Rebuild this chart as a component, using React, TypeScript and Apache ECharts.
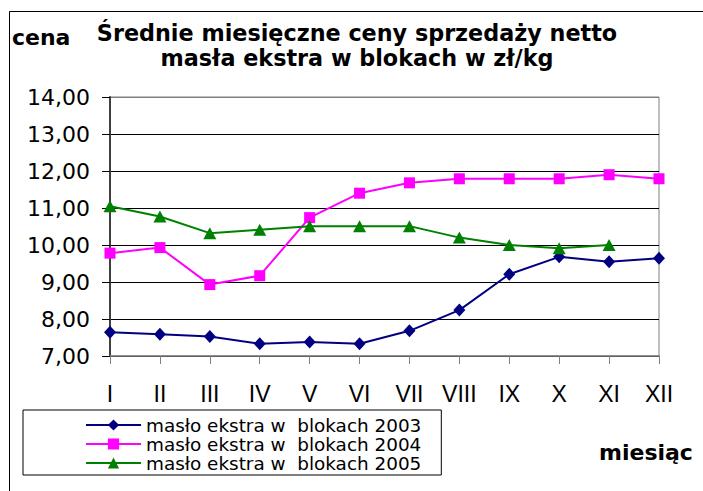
import React, { useEffect, useRef } from "react";
import * as echarts from "echarts";

const months = ["I", "II", "III", "IV", "V", "VI", "VII", "VIII", "IX", "X", "XI", "XII"];
const seriesNames = [
  "masło ekstra w  blokach 2003",
  "masło ekstra w  blokach 2004",
  "masło ekstra w  blokach 2005",
];
const v2003 = [7.64, 7.59, 7.53, 7.33, 7.38, 7.33, 7.68, 8.24, 9.21, 9.68, 9.55, 9.64];
const v2004 = [9.78, 9.93, 8.93, 9.17, 10.74, 11.4, 11.68, 11.79, 11.79, 11.79, 11.9, 11.79];
const v2005 = [11.05, 10.77, 10.32, 10.41, 10.51, 10.51, 10.51, 10.2, 10.0, 9.91, 10.0, null];
const titleText = "Średnie miesięczne ceny sprzedaży netto\nmasła ekstra w blokach w zł/kg";
const yName = "cena";
const xName = "miesiąc";
const yMin = 7;
const yMax = 14;
const yStep = 1;

export default function App() {
  const ref = useRef<HTMLDivElement>(null);
  useEffect(() => {
    document.body.style.margin = "0";
    if (!ref.current) return;
    const chart = echarts.init(ref.current, null, { renderer: "svg" });
    const gridColors: string[] = [];
    for (let v = yMin; v <= yMax; v += yStep) {
      gridColors.push(v === yMax ? "#808080" : "#000000");
    }
    chart.setOption({
      animation: false,
      backgroundColor: "#ffffff",
      title: {
        text: titleText,
        left: 357,
        top: 20,
        padding: 0,
        textAlign: "center",
        textStyle: {
          fontFamily: "DejaVu Sans",
          fontWeight: "bold",
          fontSize: 22.3,
          lineHeight: 25,
          color: "#000",
        },
      },
      graphic: [
        {
          type: "rect",
          silent: true,
          z: -10,
          shape: { x: 9.5, y: 11.5, width: 900, height: 700 },
          style: { fill: "none", stroke: "#000", lineWidth: 1 },
        },
        {
          type: "text",
          silent: true,
          x: 12,
          y: 37.5,
          style: {
            text: yName,
            fontFamily: "DejaVu Sans",
            fontWeight: "bold",
            fontSize: 22,
            fill: "#000",
            textAlign: "left",
            textVerticalAlign: "middle",
          },
        },
        {
          type: "text",
          silent: true,
          x: 599,
          y: 452.5,
          style: {
            text: xName,
            fontFamily: "DejaVu Sans",
            fontWeight: "bold",
            fontSize: 22,
            fill: "#000",
            textAlign: "left",
            textVerticalAlign: "middle",
          },
        },
      ],
      legend: {
        orient: "vertical",
        left: 23,
        top: 410,
        padding: [6, 20, 3, 62],
        borderColor: "#000",
        borderWidth: 1,
        itemWidth: 55,
        itemHeight: 14,
        itemGap: 1,
        textStyle: {
          fontFamily: "DejaVu Sans",
          fontSize: 18.4,
          lineHeight: 18,
          color: "#000",
        },
        data: seriesNames,
      },
      grid: {
        left: 110,
        top: 97,
        right: 44,
        bottom: 135,
        show: true,
        borderColor: "#808080",
        borderWidth: 1,
        backgroundColor: "transparent",
        containLabel: false,
      },
      xAxis: {
        type: "category",
        data: months,
        boundaryGap: false,
        axisLine: { show: true, lineStyle: { color: "#808080", width: 1.5 } },
        axisTick: { show: true, interval: 0, length: 8, lineStyle: { color: "#808080" } },
        axisLabel: {
          interval: 0,
          margin: 26,
          fontFamily: "'Liberation Sans', Arial, sans-serif",
          fontSize: 23,
          color: "#000",
        },
        splitLine: { show: false },
      },
      yAxis: {
        type: "value",
        min: yMin,
        max: yMax,
        interval: yStep,
        axisLine: { show: true, lineStyle: { color: "#404040", width: 2 } },
        axisTick: { show: true, length: 8, lineStyle: { color: "#000" } },
        axisLabel: {
          margin: 20,
          fontFamily: "DejaVu Sans",
          fontSize: 22,
          color: "#000",
          formatter: (v: number) => v.toFixed(2).replace(".", ","),
        },
        splitLine: { show: true, lineStyle: { color: gridColors, width: 1 } },
      },
      series: [
        {
          name: seriesNames[0],
          type: "line",
          data: v2003,
          symbol: "diamond",
          symbolSize: [12, 13],
          color: "#000080",
          lineStyle: { color: "#000080", width: 2 },
          itemStyle: { color: "#000080" },
        },
        {
          name: seriesNames[1],
          type: "line",
          data: v2004,
          symbol: "rect",
          symbolSize: 11,
          color: "#ff00ff",
          lineStyle: { color: "#ff00ff", width: 2 },
          itemStyle: { color: "#ff00ff" },
        },
        {
          name: seriesNames[2],
          type: "line",
          data: v2005,
          symbol: "triangle",
          symbolSize: [13, 12],
          color: "#008000",
          lineStyle: { color: "#008000", width: 2 },
          itemStyle: { color: "#008000" },
        },
      ],
    });
    return () => chart.dispose();
  }, []);
  return <div ref={ref} style={{ width: 703, height: 491, overflow: "hidden" }} />;
}
